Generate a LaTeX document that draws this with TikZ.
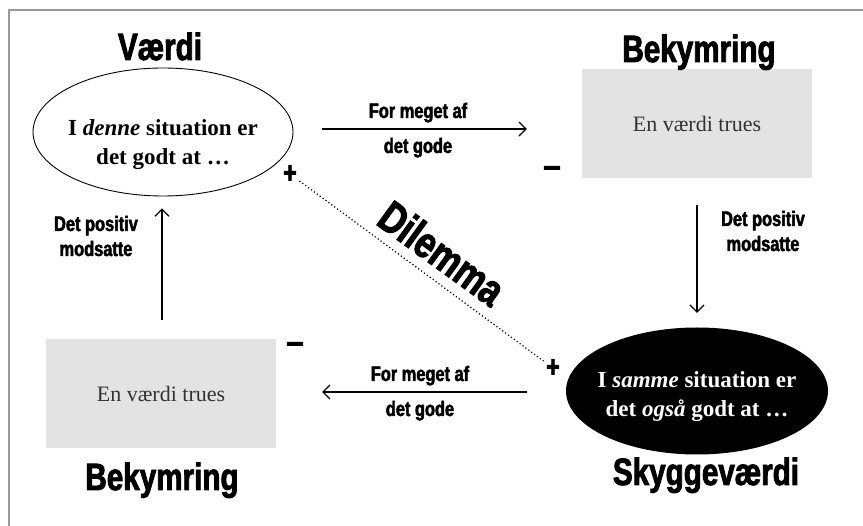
\documentclass[tikz,border=0pt]{standalone}
\usepackage{fontspec}
\setmainfont{Liberation Serif}
\newfontfamily\heavyfont[FakeStretch=0.78,FakeBold=2.2]{Liberation Sans}
\usetikzlibrary{shapes.geometric,arrows.meta}
\definecolor{boxgray}{HTML}{E3E3E3}
\definecolor{framegray}{HTML}{9A9A9A}
\newcommand{\widedash}{\scalebox{1.3}[1]{−}}
\tikzset{
	title/.style={font=\heavyfont\bfseries\fontsize{38}{40}\selectfont, inner sep=0pt, anchor=base},
	arrlabel/.style={font=\heavyfont\bfseries\fontsize{21}{25}\selectfont, align=center, inner sep=0pt, anchor=base},
	sign/.style={font=\heavyfont\bfseries\fontsize{30}{30}\selectfont, inner sep=0pt},
	valuetext/.style={font=\bfseries\fontsize{23}{29}\selectfont, align=center, inner sep=0pt},
	worrybox/.style={fill=boxgray, minimum width=230pt, minimum height=109pt, font=\fontsize{22}{24}\selectfont, text=black!80},
	arr/.style={-{Straight Barb[length=7pt,width=14pt]}, line width=1.2pt},
}
\begin{document}
\begin{tikzpicture}[x=1pt,y=-1pt]
		\useasboundingbox (0,0) rectangle (863,526);
		\draw[framegray, line width=1.2pt] (9,526) -- (9,10) -- (863,10);
		
		\node[ellipse, draw, line width=0.9pt, minimum width=260pt, minimum height=128pt] (vaerdi) at (163,132) {};
		\node[valuetext] (vaerdi-text) at (163,145) {I \textit{denne} situation er\\det godt at …};
		\node[title] (vaerdi-title) at (160,60) {Værdi};
		
		\node[worrybox] (worry-top) at (697,124) {En værdi trues};
		\node[title] (worry-top-title) at (699,62) {Bekymring};
		
		\node[ellipse, fill=black, minimum width=262pt, minimum height=127pt] (skygge) at (697,391) {};
		\node[valuetext, text=white] (skygge-text) at (697,397) {I \textit{samme} situation er\\det \textit{også} godt at …};
		\node[title] (skygge-title) at (706,485) {Skyggeværdi};
		
		\node[worrybox] (worry-bot) at (161,394) {En værdi trues};
		\node[title] (worry-bot-title) at (162,490) {Bekymring};
		
		\node[sign] (plus-top) at (290,174) {+};
		\node[sign] (plus-bot) at (553,368) {+};
		\node[sign] (minus-top) at (552,172) {\widedash};
		\node[sign] (minus-bot) at (295,348) {\widedash};
		
		\node[arrlabel] (much-top) at (418,118) {For meget af};
		\node[arrlabel] (good-top) at (418,153) {det gode};
		\node[arrlabel] (much-bot) at (420,381) {For meget af};
		\node[arrlabel] (good-bot) at (420,416) {det gode};
		\node[arrlabel] (opp-left) at (96,256) {Det positiv\\modsatte};
		\node[arrlabel] (opp-right) at (763,251) {Det positiv\\modsatte};
		
		\node[font=\heavyfont\bfseries\fontsize{44}{44}\selectfont, rotate=-36, inner sep=0pt] (dilemma) at (442,253) {Dilemma};
		
		\draw[arr] ([xshift=29pt,yshift=3pt]vaerdi.east) -- ([xshift=-55pt,yshift=-5pt]worry-top.west);
		\draw[arr] ([yshift=-26.5pt]worry-top.south) -- ([yshift=14.5pt]skygge.north);
		\draw[arr] ([xshift=-39pt,yshift=-1pt]skygge.west) -- ([xshift=46pt,yshift=2pt]worry-bot.east);
		\draw[arr] ([xshift=1pt,yshift=19.5pt]worry-bot.north) -- ([xshift=-1pt,yshift=-12pt]vaerdi.south);
		
		\draw[line width=1.2pt, dash pattern=on 1.2pt off 2.4pt, shorten <=3pt, shorten >=3pt] (plus-top) -- (plus-bot);
	\end{tikzpicture}
\end{document}
